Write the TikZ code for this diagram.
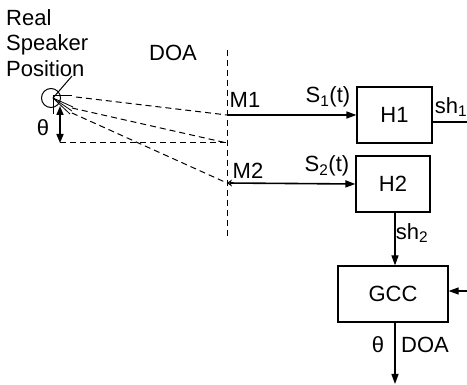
\documentclass[tikz,border=0pt]{standalone}
\usepackage{fontspec}
\setmainfont{Liberation Sans}
\usetikzlibrary{arrows.meta}
\begin{document}
\begin{tikzpicture}[x=1pt,y=-1pt,
  font=\fontsize{22}{25.5}\selectfont,
  blk/.style={draw,line width=1.2pt,minimum width=#1,inner sep=0pt},
  dsh/.style={dashed,dash pattern=on 6pt off 4pt,line width=1pt},
  arr/.style={line width=1.6pt,-{Triangle[length=10pt,width=7pt]}},
  lbl/.style={inner sep=0pt,anchor=center}]
\useasboundingbox (0,0) rectangle (467,385);
% left text
\node[lbl,anchor=west,align=left] (rsp) at (6,43) {Real\\Speaker\\Position};
\node[lbl] (doatop) at (173,53) {DOA};
% speaker
\node[draw,circle,line width=1pt,minimum size=19pt,inner sep=0pt] (spk) at (51,98) {};
\coordinate (P) at (53,98);
\coordinate (ptr) at (72,76);
\draw[line width=1pt] (P) -- (ptr);
\draw[line width=1pt] (53,96) -- (72,96);
\draw[line width=1pt] (53,96) -- (53,114);
\draw[line width=0.8pt] (P) -- (73,107);
\draw[line width=0.8pt] (P) -- (72,111);
\draw[line width=0.8pt] (P) -- (70,114);
% mic line
\coordinate (vtop) at (227,50);
\coordinate (vbot) at (227,236);
\draw[dsh] (vtop) -- (vbot);
\coordinate (m1) at (227,115);
\coordinate (m2) at (227,183);
\coordinate (d2) at (227,143);
\draw[dsh] (76,97) -- (m1);
\draw[dsh] (72,108) -- (d2);
\draw[dsh] (72,113) -- (m2);
\coordinate (tb) at (60,143);
\coordinate (tt) at (60,106);
\draw[dsh] (tb) -- (d2);
\draw[line width=1.6pt,{Triangle[length=9pt,width=7pt]}-{Triangle[length=9pt,width=7pt]}] (tt) -- (tb);
\node[lbl] (theta1) at (43,128) {θ};
% boxes
\node[blk=75pt,minimum height=56pt] (h1) at (394.5,115) {H1};
\node[blk=74pt,minimum height=56pt] (h2) at (393,184) {H2};
\node[blk=110pt,minimum height=56pt] (gcc) at (393,294) {GCC};
% labels
\node[lbl] (m1l) at (245,100) {M1};
\node[lbl] (m2l) at (248,171) {M2};
\node[lbl] (s1) at (328,97) {S\textsubscript{1}(t)};
\node[lbl] (s2) at (327,166) {S\textsubscript{2}(t)};
% arrows
\draw[arr] (m1) -- (h1.west);
\draw[line width=1.6pt,{Stealth[length=5pt,width=7pt,open]}-{Triangle[length=10pt,width=7pt]}] (m2) -- (h2.west);
\coordinate (sh1e) at (467,122);
\draw[line width=1.2pt] (h1.east |- sh1e) -- (sh1e);
\node[lbl] (sh1) at (451,107) {sh\textsubscript{1}};
\draw[line width=1.2pt,-{Triangle[length=10pt,width=7pt]}] (h2.south -| 395,0) -- (gcc.north -| 395,0);
\node[lbl] (sh2) at (412,233) {sh\textsubscript{2}};
\coordinate (gin) at (467,291);
\draw[line width=1.2pt,-{Triangle[length=10pt,width=7pt]}] (gin) -- (gcc.east |- gin);
\coordinate (out) at (395,384);
\draw[line width=1.2pt,-{Triangle[length=10pt,width=7pt]}] (gcc.south -| out) -- (out);
\node[lbl] (theta2) at (378,345) {θ};
\node[lbl] (doab) at (425,345) {DOA};
\end{tikzpicture}
\end{document}
